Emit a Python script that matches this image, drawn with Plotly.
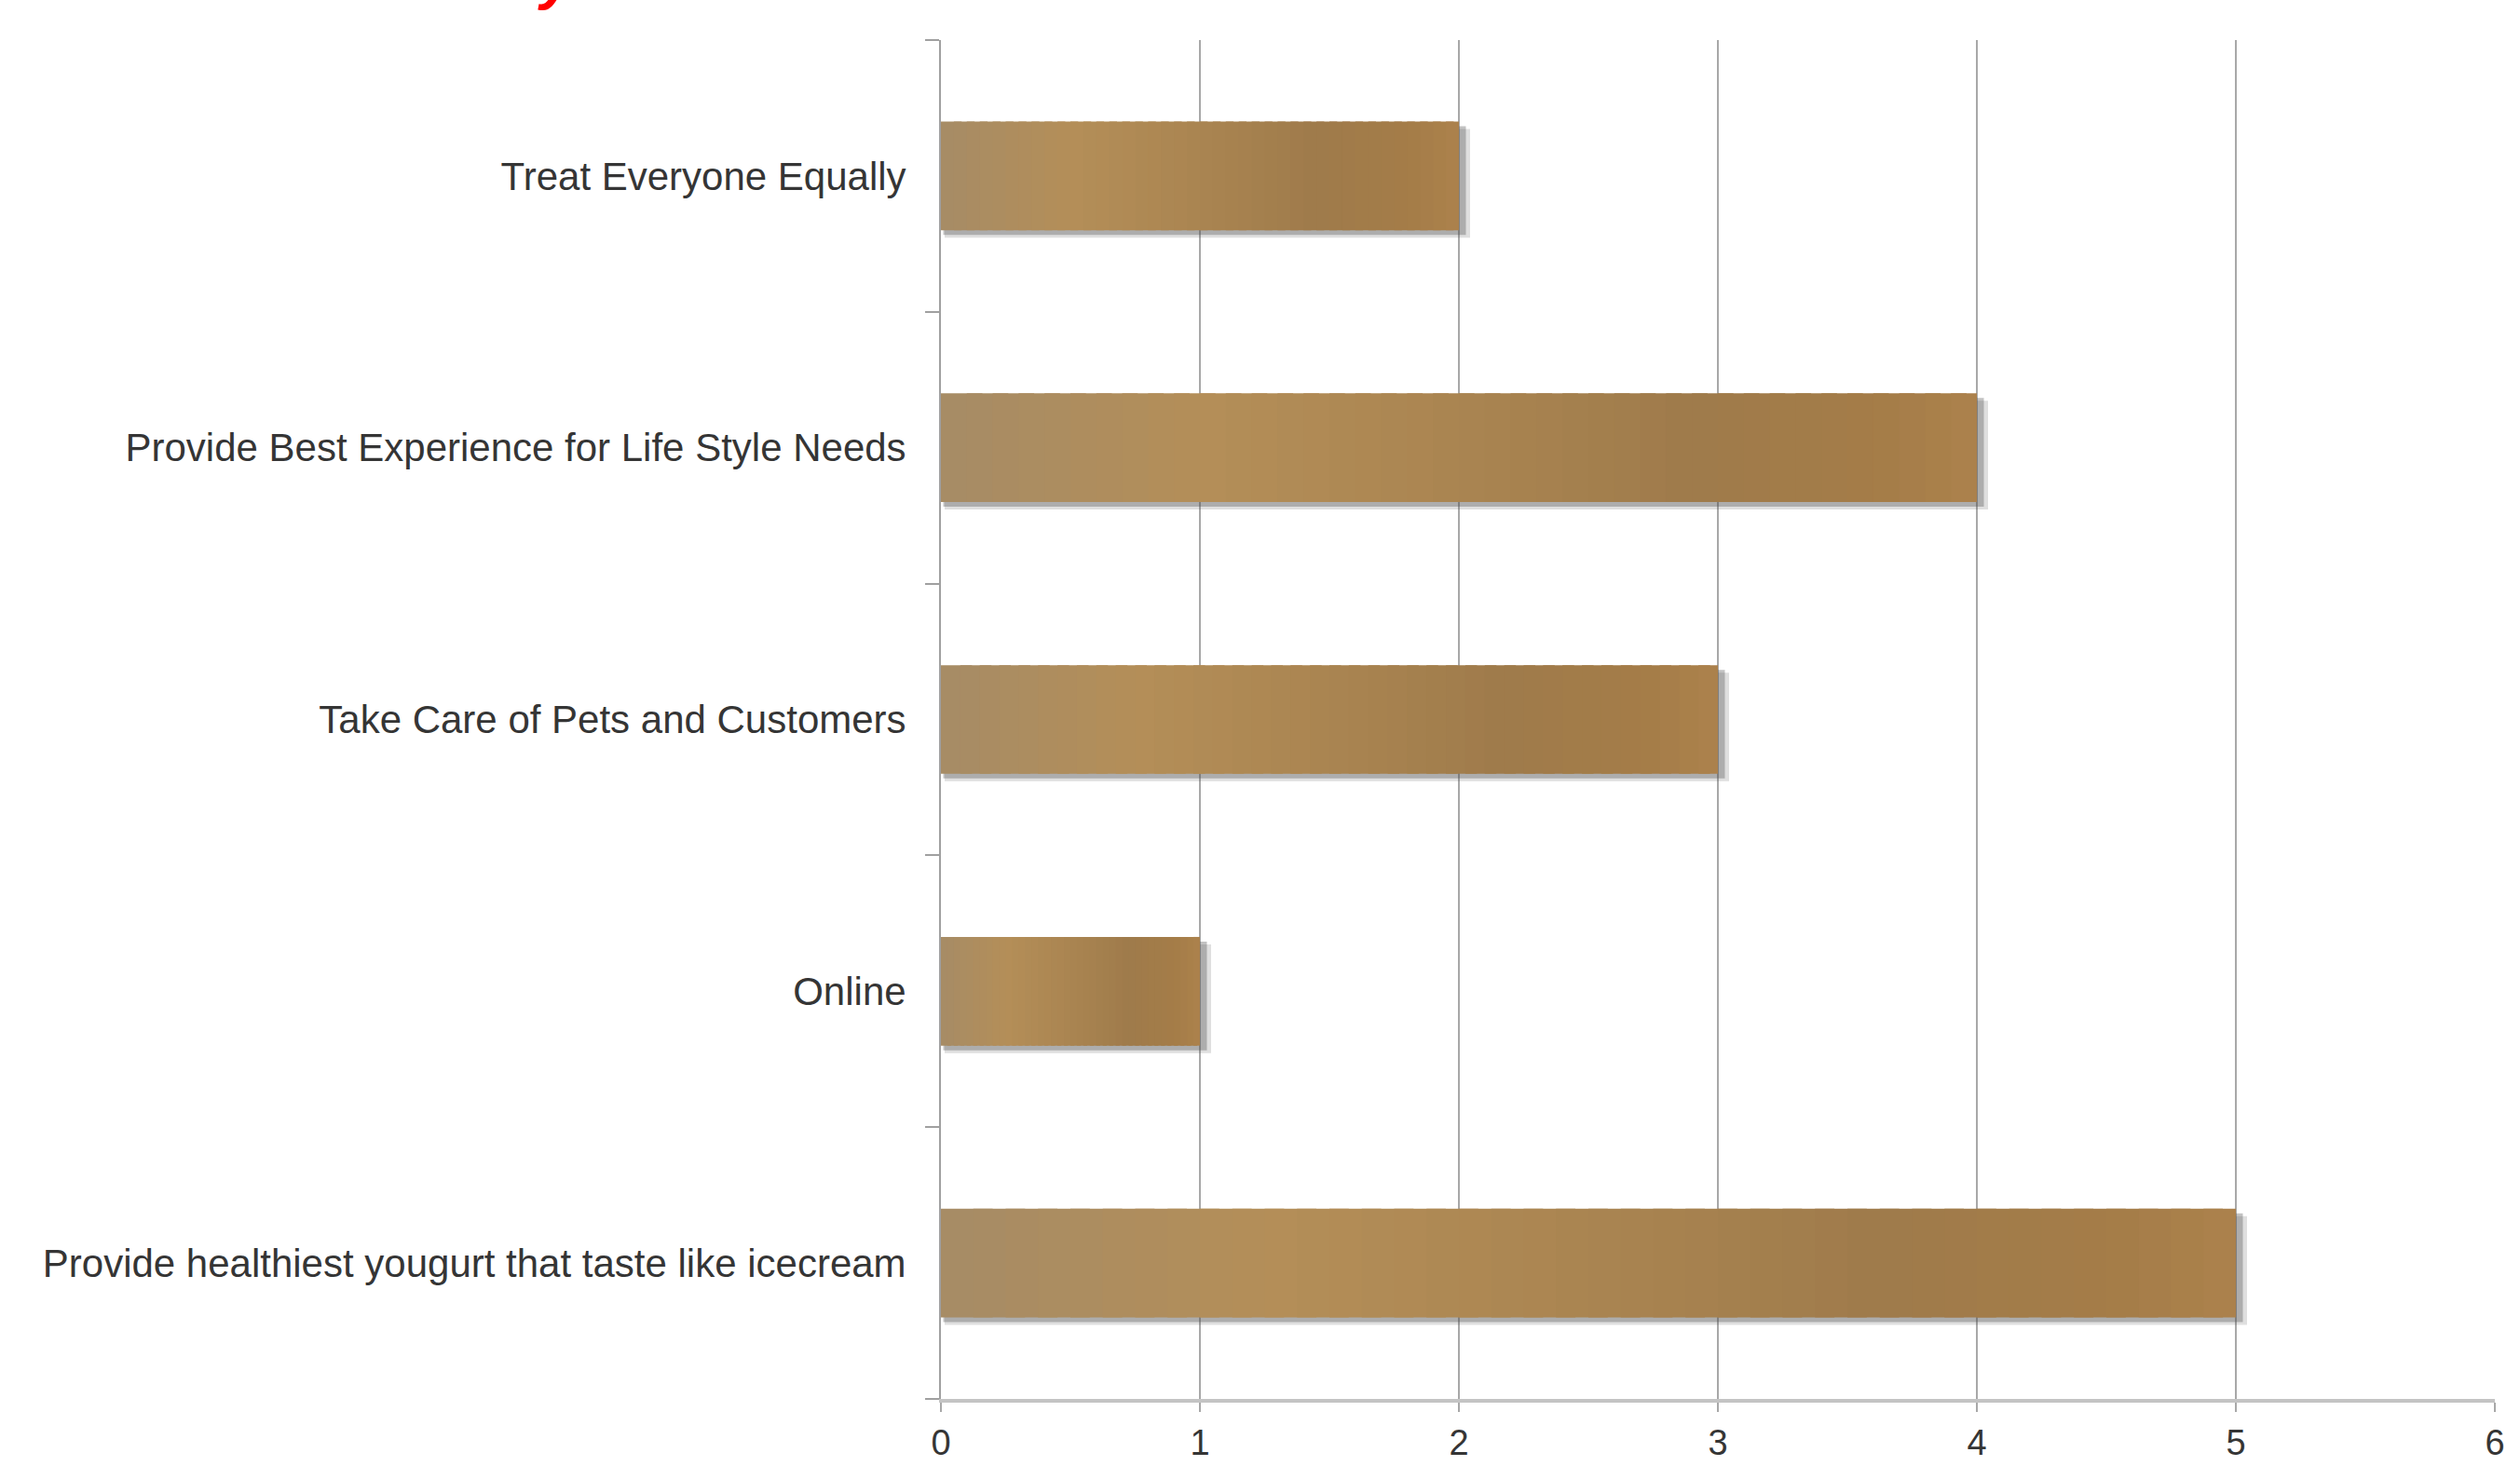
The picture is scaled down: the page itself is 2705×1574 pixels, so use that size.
import plotly.graph_objects as go

# ---- data ----
categories = [
    "Provide healthiest yougurt that taste like icecream",
    "Online",
    "Take Care of Pets and Customers",
    "Provide Best Experience for Life Style Needs",
    "Treat Everyone Equally",
]
values = [5, 1, 3, 4, 2]
x_ticks = [0, 1, 2, 3, 4, 5, 6]

# ---- styling ----
W, H = 2705, 1574
L, R, T, B = 1010, 27, 43, 72
BAR_W = 0.4
FONT = "Liberation Sans, Arial, sans-serif"
TXT = "#353535"

grad_stops = [
    (0.00, (166, 140, 102)),
    (0.25, (180, 142, 88)),
    (0.50, (170, 133, 81)),
    (0.72, (159, 123, 75)),
    (0.90, (164, 124, 72)),
    (1.00, (172, 130, 76)),
]


def grad(t):
    for (t0, c0), (t1, c1) in zip(grad_stops[:-1], grad_stops[1:]):
        if t0 <= t <= t1:
            f = (t - t0) / (t1 - t0) if t1 > t0 else 0
            c = [round(a + (b - a) * f) for a, b in zip(c0, c1)]
            return "rgb(%d,%d,%d)" % tuple(c)
    return "rgb(%d,%d,%d)" % grad_stops[-1][1]


fig = go.Figure()

plot_h = H - T - B
plot_w = W - L - R
cat_px = plot_h / len(categories)
unit_px = plot_w / 6

# soft drop shadow (two layers)
for off, alpha in [(8, 0.18), (5, 0.35)]:
    fig.add_trace(go.Bar(
        y=categories, x=[v + off / unit_px for v in values], base=[off / 2 / unit_px] * len(values),
        orientation="h", width=BAR_W, offset=-BAR_W / 2 - off / cat_px,
        marker=dict(color="rgba(80,80,80,%.2f)" % alpha, line=dict(width=0)),
        hoverinfo="skip", showlegend=False,
    ))

# gradient bars built from segments
N = 40
for k in range(N):
    t = (k + 0.5) / N
    seg = [v / N * (1.0 if k == N - 1 else 1.6) for v in values]
    base = [v * k / N for v in values]
    fig.add_trace(go.Bar(
        y=categories, x=seg, base=base, orientation="h", width=BAR_W,
        marker=dict(color=grad(t), line=dict(width=0)),
        hoverinfo="skip", showlegend=False,
    ))

fig.update_layout(
    width=W, height=H,
    margin=dict(l=L, r=R, t=T, b=B, autoexpand=False),
    paper_bgcolor="white", plot_bgcolor="white",
    barmode="overlay",
    font=dict(family=FONT, size=42, color=TXT),
    showlegend=False,
    xaxis=dict(
        range=[0, 6], tickvals=x_ticks, ticktext=[str(t) for t in x_ticks],
        showgrid=True, gridcolor="#a8a8a8", gridwidth=2,
        zeroline=False, showline=True, linecolor="#c4c4c4", linewidth=4,
        ticks="outside", ticklen=10, tickwidth=2, tickcolor="#a8a8a8",
        ticklabelstandoff=0,
        tickfont=dict(family=FONT, size=38, color=TXT),
        fixedrange=True,
    ),
    yaxis=dict(
        type="category", categoryorder="array", categoryarray=categories,
        range=[-0.5, len(categories) - 0.5],
        showgrid=False, zeroline=False,
        showline=True, linecolor="#a0a0a0", linewidth=2,
        ticks="outside", tickson="boundaries", ticklen=15, tickwidth=2,
        tickcolor="#a0a0a0", ticklabelstandoff=27,
        tickfont=dict(family=FONT, size=42, color=TXT),
        fixedrange=True,
    ),
    annotations=[dict(
        text="<b><i>y</i></b>", xref="paper", yref="paper",
        x=(598 - L) / plot_w, y=1 + (T - 14) / plot_h,
        xanchor="center", yanchor="bottom", showarrow=False,
        font=dict(family=FONT, size=64, color="#ff0000"),
    )],
)

fig.write_html("out.html")
